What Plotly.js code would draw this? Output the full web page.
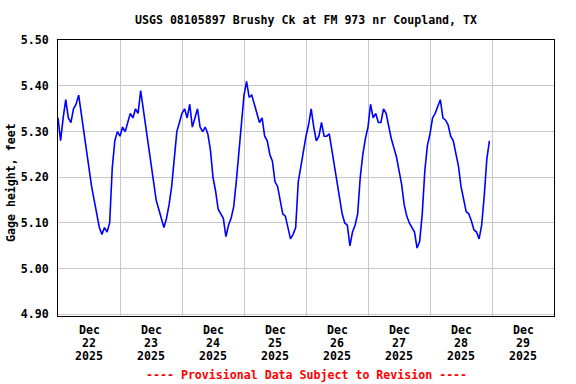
<!DOCTYPE html>
<html>
<head>
<meta charset="utf-8">
<script src="https://cdn.plot.ly/plotly-3.0.1.min.js"></script>
<style>
  html, body { margin: 0; padding: 0; background: #fff; }
  #chart { width: 576px; height: 384px; }
</style>
</head>
<body>
<div id="chart"></div>
<script>
// Hourly gage height readings (feet), starting 2025-12-22 00:00
const seriesStart = "2025-12-22T00:00:00Z";
const gageHeight = [
  // Dec 22
  5.33,5.28,5.33,5.37,5.33,5.32,5.35,5.36,5.38,5.34,5.29,5.26,5.22,5.18,5.15,5.12,5.09,5.075,5.09,5.08,5.10,5.22,5.28,5.30,
  // Dec 23
  5.29,5.31,5.30,5.32,5.34,5.33,5.35,5.34,5.39,5.35,5.31,5.28,5.23,5.20,5.15,5.13,5.11,5.09,5.11,5.14,5.18,5.25,5.30,5.32,
  // Dec 24
  5.34,5.35,5.33,5.36,5.31,5.33,5.35,5.31,5.30,5.31,5.295,5.26,5.20,5.17,5.13,5.12,5.11,5.07,5.095,5.11,5.135,5.19,5.255,5.31,
  // Dec 25
  5.38,5.41,5.375,5.38,5.36,5.34,5.32,5.33,5.29,5.28,5.25,5.235,5.19,5.18,5.145,5.12,5.115,5.09,5.065,5.075,5.09,5.19,5.225,5.25,
  // Dec 26
  5.29,5.315,5.35,5.31,5.28,5.29,5.32,5.29,5.29,5.295,5.26,5.22,5.19,5.15,5.12,5.10,5.095,5.05,5.08,5.095,5.12,5.20,5.25,5.285,
  // Dec 27
  5.31,5.36,5.33,5.34,5.32,5.32,5.35,5.34,5.31,5.285,5.265,5.245,5.215,5.185,5.14,5.115,5.10,5.09,5.08,5.045,5.06,5.12,5.215,5.27,
  // Dec 28
  5.295,5.33,5.34,5.355,5.37,5.33,5.325,5.315,5.29,5.28,5.25,5.225,5.18,5.15,5.125,5.12,5.105,5.085,5.08,5.065,5.095,5.16,5.24,5.28
];
const dayCenters = ["2025-12-22 12:00","2025-12-23 12:00","2025-12-24 12:00","2025-12-25 12:00",
                    "2025-12-26 12:00","2025-12-27 12:00","2025-12-28 12:00","2025-12-29 12:00"];
const dayMonths = ["Dec","Dec","Dec","Dec","Dec","Dec","Dec","Dec"];
const dayNumbers = ["22","23","24","25","26","27","28","29"];
const dayYears = ["2025","2025","2025","2025","2025","2025","2025","2025"];
const yTicks = [4.90, 5.00, 5.10, 5.20, 5.30, 5.40, 5.50];
const yTickText = yTicks.map(v => v.toFixed(2));
const titleText = "USGS 08105897 Brushy Ck at FM 973 nr Coupland, TX";
const yTitle = "Gage height, feet";
const footer = "---- Provisional Data Subject to Revision ----";

function fmt(ms) {
  const d = new Date(ms);
  const p = n => String(n).padStart(2, "0");
  return d.getUTCFullYear() + "-" + p(d.getUTCMonth() + 1) + "-" + p(d.getUTCDate()) + " " +
         p(d.getUTCHours()) + ":" + p(d.getUTCMinutes());
}
const t0 = Date.parse(seriesStart);
const times = gageHeight.map((_, i) => fmt(t0 + i * 3600e3));

const mono = "DejaVu Sans Mono, monospace";
const FS = 11.6;
const baseFont = { family: mono, size: FS, color: "#000", weight: "bold" };

const trace = {
  x: times, y: gageHeight, type: "scatter", mode: "lines",
  line: { color: "#0000ff", width: 1.6 }, hoverinfo: "skip"
};

// plot area geometry (px) used to place label rows outside the axes
const plotLeft = 58, plotW = 496, plotTop = 40, plotBottom = 316, plotH = 276;
const rowY = Y => -(Y - plotBottom) / plotH;
const labelRows = [[dayMonths, 330], [dayNumbers, 343], [dayYears, 356]];
const annotations = [];
labelRows.forEach(([texts, Y]) => {
  texts.forEach((t, i) => annotations.push({
    text: t, x: dayCenters[i], xref: "x", y: rowY(Y), yref: "paper",
    xanchor: "center", yanchor: "middle", showarrow: false, font: baseFont
  }));
});
annotations.push({
  text: footer, xref: "paper", yref: "paper", x: 0.5, xanchor: "center",
  y: rowY(375), yanchor: "middle", showarrow: false,
  font: { family: mono, size: FS, color: "#ff0000", weight: "bold" }
});
annotations.push({
  text: yTitle, xref: "paper", yref: "paper",
  x: (10.5 - plotLeft) / plotW, xanchor: "center",
  y: 1 - (182.5 - plotTop) / plotH, yanchor: "middle",
  textangle: -90, showarrow: false, font: baseFont
});

const layout = {
  width: 576, height: 384,
  margin: { l: 58, r: 22, t: 40, b: 68 },
  paper_bgcolor: "#fff", plot_bgcolor: "#fff",
  showlegend: false,
  font: baseFont,
  title: {
    text: titleText, font: baseFont,
    x: 0.5, xref: "paper", xanchor: "center",
    y: 1 - 20 / 384, yref: "container", yanchor: "middle"
  },
  xaxis: {
    type: "date",
    range: ["2025-12-22 00:00", "2025-12-30 00:00"],
    tickmode: "linear", tick0: "2025-12-22 00:00", dtick: 86400000,
    showticklabels: false, showgrid: true, gridcolor: "#c8c8c8", gridwidth: 1,
    ticks: "",
    showline: true, linecolor: "#000", linewidth: 1, mirror: true,
    zeroline: false, fixedrange: true
  },
  yaxis: {
    range: [4.8962, 5.5007],
    tickmode: "array", tickvals: yTicks, ticktext: yTickText,
    showgrid: true, gridcolor: "#c8c8c8", gridwidth: 1,
    ticks: "", tickfont: baseFont, ticklabelstandoff: 6,
    showline: true, linecolor: "#000", linewidth: 1, mirror: true,
    zeroline: false, fixedrange: true
  },
  annotations: annotations
};

Plotly.newPlot("chart", [trace], layout, { displayModeBar: false, staticPlot: true });
</script>
</body>
</html>
